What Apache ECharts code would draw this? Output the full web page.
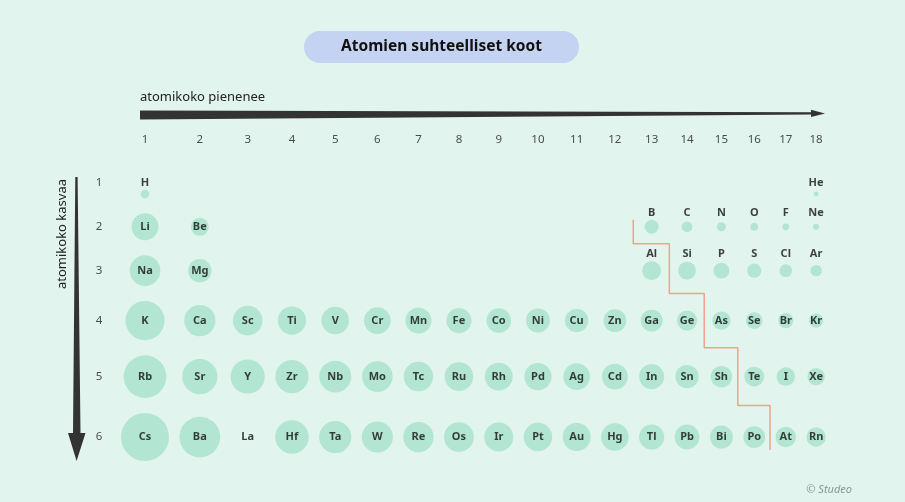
<!DOCTYPE html>
<html><head><meta charset="utf-8">
<script src="https://cdn.jsdelivr.net/npm/echarts@6/dist/echarts.min.js"></script>
<style>html,body{margin:0;padding:0;background:#e1f4ee}#c{width:905px;height:502px}</style>
</head><body><div id="c"></div><script>
// ---- DATA ----
const groupLabels = ['1','2','3','4','5','6','7','8','9','10','11','12','13','14','15','16','17','18'];
const periodLabels = ['1','2','3','4','5','6'];
const _ = null;
const symbolsP1 = ['H',_,_,_,_,_,_,_,_,_,_,_,_,_,_,_,_,'He'];
const radiiP1   = [53,_,_,_,_,_,_,_,_,_,_,_,_,_,_,_,_,31];
const symbolsP2 = ['Li','Be',_,_,_,_,_,_,_,_,_,_,'B','C','N','O','F','Ne'];
const radiiP2   = [167,112,_,_,_,_,_,_,_,_,_,_,87,67,56,48,42,38];
const symbolsP3 = ['Na','Mg',_,_,_,_,_,_,_,_,_,_,'Al','Si','P','S','Cl','Ar'];
const radiiP3   = [190,145,_,_,_,_,_,_,_,_,_,_,118,111,98,88,79,71];
const symbolsP4 = ['K','Ca','Sc','Ti','V','Cr','Mn','Fe','Co','Ni','Cu','Zn','Ga','Ge','As','Se','Br','Kr'];
const radiiP4   = [243,194,184,176,171,166,161,156,152,149,145,142,136,125,114,103,94,88];
const symbolsP5 = ['Rb','Sr','Y','Zr','Nb','Mo','Tc','Ru','Rh','Pd','Ag','Cd','In','Sn','Sh','Te','I','Xe'];
const radiiP5   = [265,219,212,206,198,190,183,178,173,169,165,161,156,145,133,123,115,108];
const symbolsP6 = ['Cs','Ba','La','Hf','Ta','W','Re','Os','Ir','Pt','Au','Hg','Tl','Pb','Bi','Po','At','Rn'];
const radiiP6   = [298,253,_,208,200,193,188,185,180,177,174,171,156,154,143,135,127,120];
// metal / non-metal boundary: group after which the line runs, for periods 2..6
const boundaryGroups = [12,13,14,15,16];

// ---- LAYOUT ----
const symbols = [symbolsP1,symbolsP2,symbolsP3,symbolsP4,symbolsP5,symbolsP6];
const radii = [radiiP1,radiiP2,radiiP3,radiiP4,radiiP5,radiiP6];
const K = 0.161, X0 = 145, Y0 = 194, GAP_X = 10.45, GAP_Y = 15.1;
const size = r => r == null ? 0 : r * K;
const colMax = groupLabels.map((g,i) => Math.max(...radii.map(p => size(p[i]))));
const rowMax = periodLabels.map((p,j) => Math.max(...radii[j].map(size)));
const colX = [X0];
for (let i = 1; i < colMax.length; i++) colX.push(colX[i-1] + (colMax[i-1]+colMax[i])/2 + GAP_X);
const rowY = [Y0];
for (let j = 1; j < rowMax.length; j++) rowY.push(rowY[j-1] + (rowMax[j-1]+rowMax[j])/2 + GAP_Y);
const isAbove = (j,i) => j === 0 || (j <= 2 && i >= 12);
const aboveMax = rowY.map((y,j) => Math.max(0, ...radii[j].map((r,i) => (r!=null && isAbove(j,i)) ? size(r) : 0)));
const labelDy = j => -(aboveMax[j]/2 + 7);

const atoms = [];
symbols.forEach((row,j) => row.forEach((s,i) => {
  if (!s) return;
  const r = radii[j][i];
  const above = isAbove(j,i);
  atoms.push({
    value: [colX[i], rowY[j]],
    name: s,
    symbolSize: r == null ? 1 : size(r),
    itemStyle: { color: r == null ? 'rgba(0,0,0,0)' : '#a8e2cb' },
    label: { offset: [0, above ? labelDy(j) : 0] }
  });
}));

const colNums = groupLabels.map((g,i) => ({ value: [colX[i], 140], name: g }));
const rowNums = periodLabels.map((p,j) => ({ value: [99, rowY[j] + (isAbove(j,0) ? labelDy(j) : 0)], name: p }));

// staircase
const rowTop = j => Math.min(rowY[j] - rowMax[j]/2, aboveMax[j] > 0 ? rowY[j] + labelDy(j) - 7 : Infinity);
const rowBottom = j => rowY[j] + rowMax[j]/2;
const stair = [];
boundaryGroups.forEach((g,k) => {
  const j = k + 1;
  const x = (colX[g-1] + colX[g]) / 2;
  const yTop = k === 0 ? rowY[j] - size(radii[j][g])/2 : (rowBottom(j-1) + rowTop(j))/2;
  const yBot = k === boundaryGroups.length-1 ? rowY[j] + size(radii[j][g-1])/2 + 2 : (rowBottom(j) + rowTop(j+1))/2;
  stair.push([x, yTop]);
  stair.push([x, yBot]);
});

const FONT = '"Noto Sans", sans-serif';
const chart = echarts.init(document.getElementById('c'), null, {renderer:'canvas'});
chart.setOption({
  backgroundColor: '#e1f4ee',
  animation: false,
  grid: { left: 0, right: 0, top: 0, bottom: 0 },
  xAxis: { type: 'value', min: 0, max: 905, show: false },
  yAxis: { type: 'value', min: 0, max: 502, inverse: true, show: false },
  series: [
    { type: 'line', data: stair, symbol: 'none', silent: true, z: 1,
      lineStyle: { color: '#f5a08b', width: 1.5 } },
    { type: 'scatter', data: atoms, silent: true, z: 2,
      label: { show: true, position: 'inside', formatter: '{b}', color: '#111',
        fontFamily: FONT, fontWeight: 'bold', fontSize: 11 } },
    { type: 'scatter', data: colNums, symbolSize: 1, silent: true, itemStyle: { color: 'rgba(0,0,0,0)' },
      label: { show: true, position: 'inside', formatter: '{b}', color: '#222', fontFamily: FONT, fontSize: 11.5 } },
    { type: 'scatter', data: rowNums, symbolSize: 1, silent: true, itemStyle: { color: 'rgba(0,0,0,0)' },
      label: { show: true, position: 'inside', formatter: '{b}', color: '#222', fontFamily: FONT, fontSize: 11.5 } }
  ],
  graphic: [
    { type: 'rect', shape: { x: 304, y: 31, width: 275, height: 32, r: 16 }, style: { fill: '#c3d3f1' } },
    { type: 'text', x: 441.5, y: 47, style: { text: 'Atomien suhteelliset koot', fill: '#111', font: 'bold 15.5px "Noto Sans"', align: 'center', verticalAlign: 'middle' } },
    { type: 'text', x: 140, y: 97, style: { text: 'atomikoko pienenee', fill: '#222', font: '13px "Noto Sans"', align: 'left', verticalAlign: 'middle' } },
    { type: 'polygon', shape: { points: [[140,110.5],[811,112.3],[811,109.8],[825,113.4],[811,117],[811,114.6],[140,119.5]] }, style: { fill: '#333' } },
    { type: 'polygon', shape: { points: [[75.3,177],[77.6,177],[80.5,433],[85.5,433],[76.6,461],[68,433],[73,433]] }, style: { fill: '#333' } },
    { type: 'text', x: 62, y: 234, rotation: Math.PI/2, style: { text: 'atomikoko kasvaa', fill: '#222', font: '13px "Noto Sans"', align: 'center', verticalAlign: 'middle' } },
    { type: 'text', x: 852, y: 490, style: { text: '© Studeo', fill: '#8a9893', font: 'italic 11px "Noto Sans"', align: 'right', verticalAlign: 'middle' } }
  ]
});
</script></body></html>
